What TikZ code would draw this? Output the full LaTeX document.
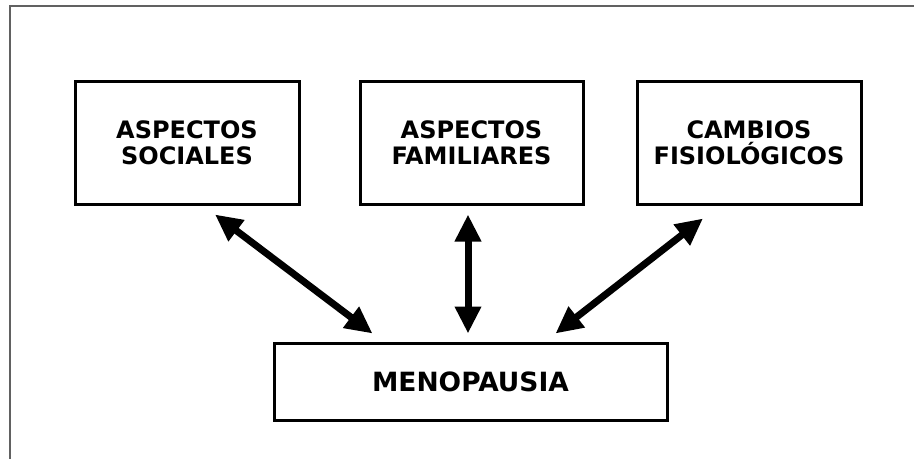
\documentclass[tikz,border=0pt]{standalone}
\usepackage{fontspec}
\setsansfont{DejaVu Sans}
\usetikzlibrary{arrows.meta}

\tikzset{
    Caja/.style = {draw, line width=3pt, align=center,
        font=\sffamily\bfseries\fontsize{24}{26}\selectfont},
    Flecha/.style = {line width=7pt,
        {Triangle[length=27pt,width=25pt]}-{Triangle[length=27pt,width=25pt]}}
}

\begin{document}
\begin{tikzpicture}[x=1pt,y=1pt]

    \useasboundingbox (0,0) rectangle (914,459);
    \draw[line width=2.5pt, color=black!62] (914,453) -- (10,453) -- (10,0);

    \node[Caja, minimum width=224pt, minimum height=122pt] (soc) at (187,316) {ASPECTOS\\SOCIALES};
    \node[Caja, minimum width=223pt, minimum height=122pt] (fam) at (471.5,316) {ASPECTOS\\FAMILIARES};
    \node[Caja, minimum width=224pt, minimum height=122pt] (fis) at (749,316) {CAMBIOS\\FISIOLÓGICOS};
    \node[Caja, minimum width=393pt, minimum height=77pt,
        font=\sffamily\bfseries\fontsize{26.5}{28}\selectfont] (meno) at (470.5,77.5) {MENOPAUSIA};

    \draw[Flecha] ([xshift=28pt,yshift=-9pt]soc.south) -- ([xshift=-98pt,yshift=8pt]meno.north);
    \draw[Flecha] ([xshift=-3.5pt,yshift=-9pt]fam.south) -- ([xshift=-2.5pt,yshift=8pt]meno.north);
    \draw[Flecha] ([xshift=-46pt,yshift=-13pt]fis.south) -- ([xshift=85pt,yshift=8pt]meno.north);

\end{tikzpicture}
\end{document}
